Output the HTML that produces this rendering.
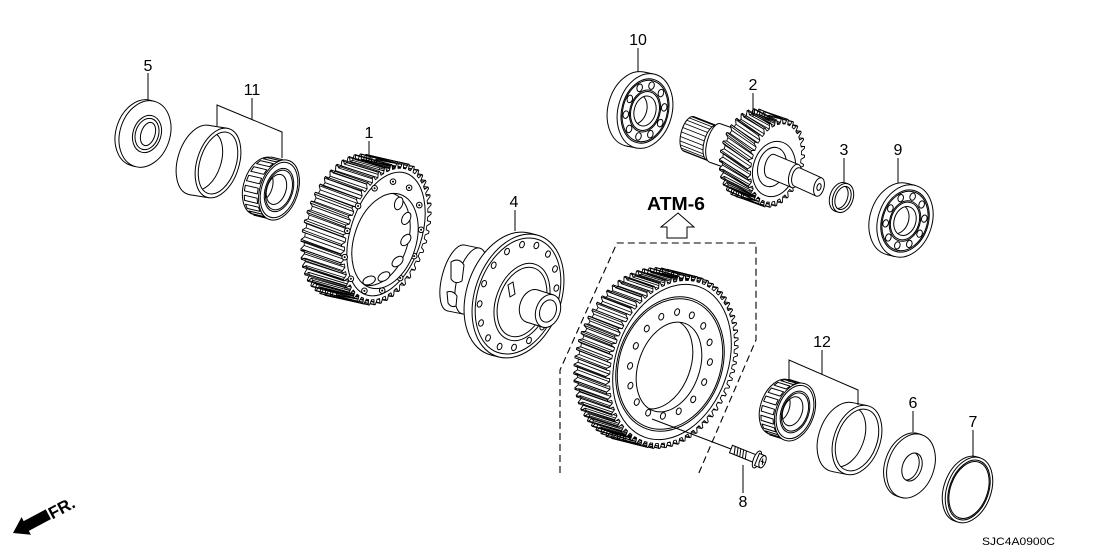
<!DOCTYPE html>
<html><head><meta charset="utf-8">
<style>
html,body{margin:0;padding:0;background:#fff;}
svg{display:block}
</style></head>
<body>
<svg id="s" width="1108" height="553" viewBox="0 0 1108 553" xmlns="http://www.w3.org/2000/svg">
<rect width="1108" height="553" fill="#fff"/>
<defs id="defs"></defs>
<path d="M560,473V370L617,243H756V340L698,475" fill="none" stroke="#000" stroke-width="1.1" stroke-dasharray="7,4"/>
<g id="art"></g>
<g stroke="#000" stroke-width="1" fill="none">
<path d="M148,73V100 M252,98V120 M217,126V105L282,132V158 M369,141V160 M515,210V231 M638,48V72 M753,93V117 M844,158V182 M898,158V183 M822,350V374 M789,382V360L858,390V405 M913,411V432 M973,430V457 M743,465V493 M652,419L731,449"/>
</g>
<g transform="translate(731,449) rotate(22)" stroke="#000" stroke-width="1" fill="#fff">
<rect x="0" y="-4" width="27" height="8"/>
<path d="M3,-4L5,4M6,-4L8,4M9,-4L11,4M12,-4L14,4M15,-4L17,4" fill="none"/>
<ellipse cx="28" cy="0" rx="3.5" ry="9"/>
<rect x="28" y="-6.5" width="6" height="13"/>
<ellipse cx="34" cy="0" rx="3" ry="6.5"/>
<path d="M33,-3L35,3M32,0H36" fill="none"/>
</g>
<polygon points="678,213 694,227 687,227 687,238 667,238 667,227 661,227" fill="#fff" stroke="#000" stroke-width="1"/>
<text x="676" y="210" font-family="Liberation Sans, Arial, sans-serif" font-weight="bold" font-size="18" text-anchor="middle" textLength="58" lengthAdjust="spacingAndGlyphs">ATM-6</text>
<g font-family="Liberation Sans, Arial, sans-serif" font-size="16" text-anchor="middle" fill="#000">
<text x="148" y="71">5</text>
<text x="252" y="95">11</text>
<text x="369" y="138">1</text>
<text x="514" y="207">4</text>
<text x="638" y="45">10</text>
<text x="753" y="90">2</text>
<text x="844" y="155">3</text>
<text x="898" y="155">9</text>
<text x="822" y="347">12</text>
<text x="913" y="408">6</text>
<text x="973" y="427">7</text>
<text x="743" y="507">8</text>
</g>
<text x="982" y="545" font-family="Liberation Sans, Arial, sans-serif" font-size="11" textLength="73" lengthAdjust="spacingAndGlyphs">SJC4A0900C</text>
<g transform="translate(13,533) rotate(-28)">
<polygon points="0,0 15,-10 15,-5.5 40,-5.5 40,5.5 15,5.5 15,10" fill="#000"/>
<text x="41" y="6.5" font-family="Liberation Sans, Arial, sans-serif" font-weight="bold" font-size="17">FR.</text>
</g>
</svg>
<script>
(function(){
const NS='http://www.w3.org/2000/svg';
const art=document.getElementById('art'),defs=document.getElementById('defs');
let PAR=art;const R=Math.PI/180,SW=1,TAU=Math.PI*2;
function el(tag,at,par){const e=document.createElementNS(NS,tag);for(const k in at)e.setAttribute(k,at[k]);(par||PAR).appendChild(e);return e;}
function f2(v){return (+v).toFixed(2);}
function pt(c,a,b,rot,t,s){s=s||1;const cr=Math.cos(rot*R),sr=Math.sin(rot*R);const x=a*s*Math.cos(t),y=b*s*Math.sin(t);return[c[0]+x*cr-y*sr,c[1]+x*sr+y*cr];}
function E(c,a,b,rot,o){o=o||{};return el('ellipse',{cx:f2(c[0]),cy:f2(c[1]),rx:f2(a),ry:f2(b),transform:'rotate('+rot+' '+f2(c[0])+' '+f2(c[1])+')',fill:o.fill||'#fff',stroke:'#000','stroke-width':o.sw||SW});}
function fmt(ps){return ps.map(p=>p[0].toFixed(1)+','+p[1].toFixed(1)).join(' ');}
function poly(ps,o){o=o||{};return el('polygon',{points:fmt(ps),fill:o.fill||'#fff',stroke:o.stroke||'#000','stroke-width':o.sw||SW,'stroke-linejoin':'round'});}
function ln(p,q,sw){return el('line',{x1:f2(p[0]),y1:f2(p[1]),x2:f2(q[0]),y2:f2(q[1]),stroke:'#000','stroke-width':sw||SW});}
function sub(p,d,k){k=(k===undefined)?1:k;return[p[0]-d[0]*k,p[1]-d[1]*k];}
function dd(c,a,b,rot,t,d){const p=pt(c,a,b,rot,t);return(p[0]-c[0])*d[0]+(p[1]-c[1])*d[1];}
function ext(c,a,b,rot,d){const n=[-d[1],d[0]];let mx=-1e9,mn=1e9,t1=0,t2=0;for(let i=0;i<720;i++){const t=i/720*TAU;const p=pt(c,a,b,rot,t);const v=(p[0]-c[0])*n[0]+(p[1]-c[1])*n[1];if(v>mx){mx=v;t1=t;}if(v<mn){mn=v;t2=t;}}return[t1,t2];}
function hull(c,a,b,rot,d,lines){const bc=sub(c,d);const e=ext(c,a,b,rot,d);const p1=pt(c,a,b,rot,e[0]),p2=pt(c,a,b,rot,e[1]),b1=pt(bc,a,b,rot,e[0]),b2=pt(bc,a,b,rot,e[1]);poly([p1,b1,b2,p2],{stroke:'none'});if(lines!==false){ln(p1,b1);ln(p2,b2);}}
function cyl(c,a,b,rot,d,o){E(sub(c,d),a,b,rot,o);hull(c,a,b,rot,d);return E(c,a,b,rot,o);}
let cidn=0;
function clipE(c,a,b,rot){const id='k'+(cidn++);const cp=el('clipPath',{id:id},defs);el('ellipse',{cx:c[0],cy:c[1],rx:a,ry:b,transform:'rotate('+rot+' '+c[0]+' '+c[1]+')'},cp);return id;}
function clipped(id,fn){const g=el('g',{'clip-path':'url(#'+id+')'});const pv=PAR;PAR=g;fn();PAR=pv;}
function toothPts(c,a,b,rot,N,h,ph){const ps=[];const P2=TAU/N;for(let i=0;i<N;i++){const t0=i*P2+ph;[[0,1],[0.11,1],[0.22,1],[0.4,1+h],[0.6,1+h],[0.78,1],[0.89,1]].forEach(q=>ps.push(pt(c,a,b,rot,t0+q[0]*P2,q[1])));}return ps;}
function gear(g){const c=g.c,a=g.a,b=g.b,rot=g.rot,d=g.d,N=g.N,h=g.h,hx=g.hx;const bc=sub(c,d);const P2=TAU/N;const tw=0.85;
 poly(toothPts(bc,a,b,rot,N,h,hx),{sw:tw});
 hull(c,a,b,rot,d,false);
 const T=[];const us=[0.22,0.4,0.6,0.78],rs=[1,1+h,1+h,1];
 for(let i=0;i<N;i++){const t0=i*P2;const f=us.map((u,k)=>pt(c,a,b,rot,t0+u*P2,rs[k]));const bk=us.map((u,k)=>pt(bc,a,b,rot,t0+u*P2+hx,rs[k]));T.push({f:f,bk:bk,dp:dd(c,a,b,rot,t0+0.5*P2,d)});}
 T.sort((x,y)=>y.dp-x.dp);
 T.forEach(t=>{poly([t.f[0],t.f[1],t.f[2],t.f[3],t.bk[3],t.bk[2],t.bk[1],t.bk[0]],{sw:tw});ln(t.f[1],t.bk[1],tw);ln(t.f[2],t.bk[2],tw);});
 poly(toothPts(c,a,b,rot,N,h,0),{sw:tw});
}
function rollers(c,a,b,rot,d,n,s,w,k0,k1){const P2=TAU/n;const arr=[];for(let i=0;i<n;i++){const t=i*P2+0.1;const dp=dd(c,a,b,rot,t,d);if(dp>0)continue;const fc=sub(c,d,k0),bc=sub(c,d,k1);arr.push({q:[pt(fc,a,b,rot,t-w*P2,s),pt(fc,a,b,rot,t+w*P2,s),pt(bc,a,b,rot,t+w*P2,s),pt(bc,a,b,rot,t-w*P2,s)],dp:dp});}arr.sort((x,y)=>y.dp-x.dp);arr.forEach(r=>poly(r.q));}
function ballB(c,a,b,rot,d){
 cyl(c,a,b,rot,d);
 E(c,a*0.86,b*0.86,rot);E(c,a*0.82,b*0.82,rot,{fill:'none'});
 const n=10;for(let i=0;i<n;i++){const t=i/n*TAU+0.3;const p=pt(c,a,b,rot,t,0.69);E(p,a*0.1,b*0.1,rot);}
 E(c,a*0.56,b*0.56,rot);E(c,a*0.52,b*0.52,rot,{fill:'none'});
 E(c,a*0.4,b*0.4,rot);
 const id=clipE(c,a*0.4,b*0.4,rot);clipped(id,()=>{E(sub(c,d,0.9),a*0.4,b*0.4,rot,{fill:'none'});});
}
function cone(c,a,b,rot,d){
 E(sub(c,d),a*0.96,b*0.96,rot);hull(c,a*0.98,b*0.98,rot,d);
 rollers(c,a,b,rot,d,18,0.97,0.28,0.12,0.88);
 E(c,a,b,rot);E(c,a*0.92,b*0.92,rot,{fill:'none'});
 E(c,a*0.72,b*0.72,rot);E(c,a*0.66,b*0.66,rot,{fill:'none'});
 const bc=sub(c,d,0.15);E(bc,a*0.5,b*0.5,rot);
 const id=clipE(bc,a*0.5,b*0.5,rot);clipped(id,()=>{E(sub(bc,d,0.8),a*0.5,b*0.5,rot,{fill:'none'});});
}

// ---- washer 5
const w5=[145,134];
cyl(w5,25,34,18,[4,1]);
E([147,134],14,19,18);E([147,134],11.5,16,18,{fill:'none'});E([148,134],7,12,18);

// ---- cup 11
const c11=[218,163];
cyl(c11,21,36,18,[19,3]);
E(c11,18,32,18);
(function(){const id=clipE(c11,18,32,18);clipped(id,()=>{E([204,161],17,30,18,{fill:'none'});});})();

// ---- cone 11
cone([279,190],19,31,18,[17,4]);

// ---- gear 1
const g1={c:[386,234],a:38,b:68,rot:18,d:[40,9],N:46,h:0.08,hx:0.08};
gear(g1);
E(g1.c,35.5,64,18,{fill:'none'});
for(let i=0;i<13;i++){const t=i/13*TAU+0.15;const p=pt([383,237],36,57,18,t);el('circle',{cx:f2(p[0]),cy:f2(p[1]),r:2.8,fill:'#fff',stroke:'#000','stroke-width':SW});el('circle',{cx:f2(p[0]),cy:f2(p[1]),r:1,fill:'#000'});}
(function(){const cc=[385,241];E(cc,31,49,18);const id=clipE(cc,31,49,18);clipped(id,()=>{
 E([378,239],30,48,18,{fill:'none'});
 for(let i=0;i<6;i++){const t=(-75+i*32)*R;const p=pt([380,240],25,42,18,t);E(p,4,6.5,18+i*10);}
});})();

// ---- differential 4
cyl([471,281],14,34,15,[15,3]);
el('path',{d:'M451,262 q8,-5 13,3 l-2,16 q-7,4 -11,-2 z M447,292 q6,-2 10,4 l-1,10 q-5,2 -8,-3 z',fill:'#fff',stroke:'#000','stroke-width':SW});
const fc=[518,296];
cyl(fc,43,64,20,[8,2]);
E(fc,40,60,20,{fill:'none'});
for(let i=0;i<16;i++){const t=i/16*TAU;const p=pt(fc,43,64,20,t,0.84);E(p,2.3,3.3,20);}
E([522,302],26,40,20);E([522,302],23,36,20,{fill:'none'});
el('path',{d:'M508,285 l5,-3 l2,12 l-5,3 z',fill:'#fff',stroke:'#000','stroke-width':SW});
cyl([548,311],12,17,20,[16,5]);
E([548,311],8,11.5,20);

// ---- bearing 10
ballB([645,111],27,38,15,[10,2]);

// ---- shaft 2
(function(){
 const sc=[712,143],sd=[23,9];
 cyl(sc,8,18,15,sd);
 const bc=sub(sc,sd);
 for(let i=0;i<24;i++){const t=i/24*TAU;if(dd(sc,8,18,15,t,sd)>-1)continue;ln(pt(sc,8,18,15,t),pt(bc,8,18,15,t),0.8);}
 cyl([735,150],8,20,15,[20,7]);
 E([735,150],6,17,15,{fill:'none'});
 const g2={c:[776,163],a:24,b:40,rot:15,d:[28,10],N:30,h:0.13,hx:0.2};
 gear(g2);
 E([774,169],21,28,15);
 E([772,167],14,20,15,{fill:'none'});
 cyl([795,176],6,12,15,[24,10]);
 cyl([819,187],5,9.5,15,[22,10]);
 E([819,187],2,3.5,15);
})();

// ---- ring 3
(function(){const c=[843,198];cyl(c,10,15,20,[3,1]);E(c,7.5,12,20);const id=clipE(c,7.5,12,20);clipped(id,()=>{E([840,197],7.5,12,20,{fill:'none'});});})();

// ---- bearing 9
ballB([905,221],27,37,18,[8,2]);

// ---- ring gear
(function(){
 const rg={c:[672,362],a:59,b:84,rot:20,d:[32,8],N:66,h:0.06,hx:0.05};
 gear(rg);
 const c=[670,364];
 E(rg.c,56,80,20,{fill:'none'});
 E(c,52,69,20,{fill:'none'});
 E(c,50.5,67,20,{fill:'none'});
 for(let i=0;i<16;i++){const t=i/16*TAU+0.1;const p=pt(c,38.5,53.5,20,t);E(p,2.4,3.4,20);}
 const bc=[669,367];
 E(bc,30.5,46.5,20);
 const id=clipE(bc,30.5,46.5,20);clipped(id,()=>{E([660,364],30.5,46.5,20,{fill:'none'});});
})();

// ---- cone 12
cone([795,412],19,30,20,[16,5]);

// ---- cup 12
(function(){const c=[857,440];cyl(c,23,36,20,[15,3]);E(c,20,32,20);const id=clipE(c,20,32,20);clipped(id,()=>{E([845,437],19,31,20,{fill:'none'});});})();

// ---- washer 6
(function(){const c=[911,466];cyl(c,23,33,20,[3,1]);E([912,467],9.5,14.5,20);const id=clipE([912,467],9.5,14.5,20);clipped(id,()=>{E([909,466],9.5,14.5,20,{fill:'none'});});})();

// ---- ring 7
(function(){const c=[969,490];cyl(c,22,34,20,[3,1]);E(c,19.5,31,20);E(c,18.5,29.5,20,{fill:'none'});})();
})();
</script>
</body></html>
